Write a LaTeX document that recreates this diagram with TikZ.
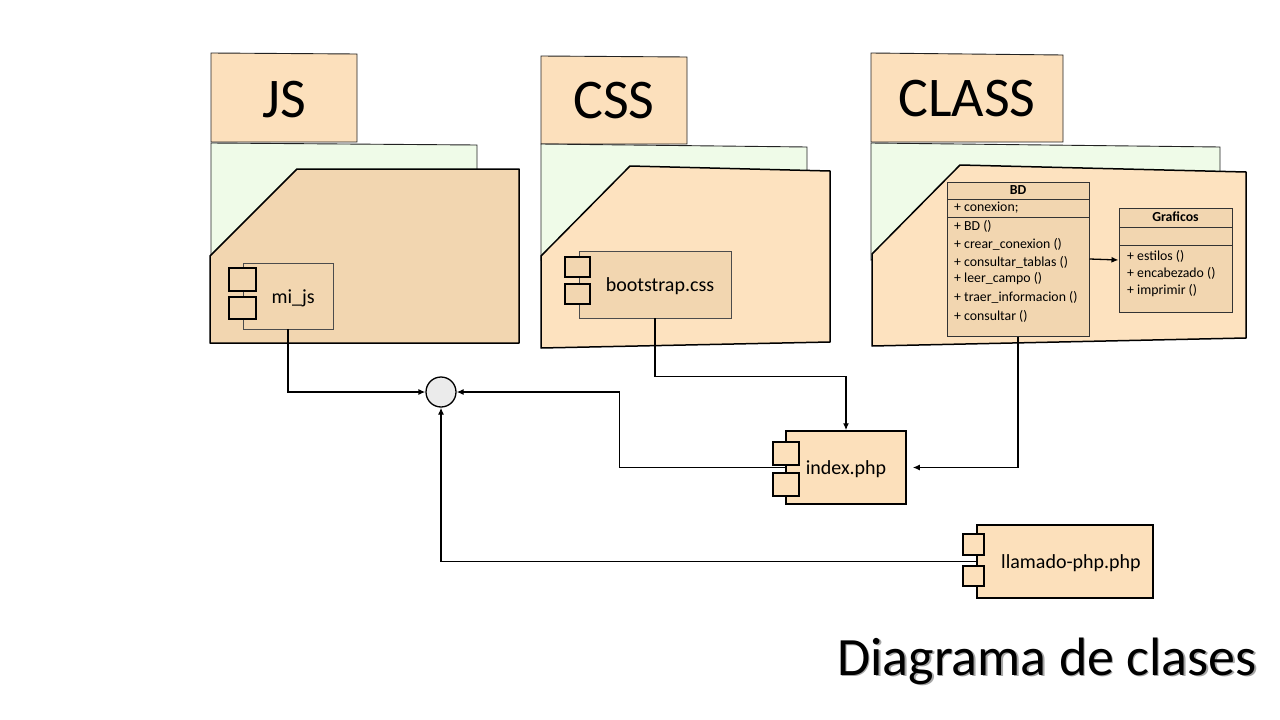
\documentclass[tikz,border=0pt]{standalone}
\usepackage{fontspec}
\setmainfont{Carlito}
\usetikzlibrary{arrows.meta}
\definecolor{tabc}{HTML}{FCE0BC}
\definecolor{greenc}{HTML}{EFFBE8}
\definecolor{frontd}{HTML}{F2D6B0}
\definecolor{frontl}{HTML}{FDE2BF}
\definecolor{compc}{HTML}{FCE0BB}
\definecolor{edge}{HTML}{222222}
\tikzset{
  tabbox/.style={fill=tabc, draw=edge, line width=0.9pt},
  greenbox/.style={fill=greenc, draw=edge, line width=0.9pt},
  frontbox/.style={draw=black, line width=1.5pt, line join=round},
  inbox/.style={draw=black!70, line width=0.8pt, fill=frontd, inner sep=0pt},
  port/.style={draw=black, line width=1.4pt, fill=frontd},
  extbox/.style={draw=black, line width=1.5pt, fill=compc, inner sep=0pt},
  extport/.style={draw=black, line width=1.3pt, fill=compc},
  classbox/.style={draw=black!80, line width=1pt, fill=frontd, inner sep=0pt},
  conn/.style={draw=black, line width=1.3pt},
  arr/.style={conn, -{Latex[length=7pt,width=6pt]}},
  big/.style={font=\fontsize{56}{60}\selectfont},
  mid/.style={font=\fontsize{20}{24}\selectfont},
  small/.style={font=\fontsize{13.8}{15}\selectfont, anchor=west, inner sep=0pt},
  smallb/.style={font=\bfseries\fontsize{13.8}{15}\selectfont, inner sep=0pt},
}
\begin{document}
\begin{tikzpicture}[x=1pt,y=-1pt]
\useasboundingbox (0,0) rectangle (1280,720);
\fill[white] (0,0) rectangle (1280,720);

% ---------- JS package ----------
\draw[tabbox] (211,53) -- (357,54) -- (357,142) -- (211,142) -- cycle;
\draw[greenbox] (211,143) -- (477,145) -- (477,200) -- (211,260) -- cycle;
\draw[frontbox, fill=frontd] (210,256) -- (297,169) -- (519,169) -- (519,343) -- (210,343) -- cycle;
\node[big] (jst) at (284,100) {JS};
\node[inbox, minimum width=90pt, minimum height=66pt] (mijs) at (288,296) {};
\node[mid, anchor=west] at (268,298) {mi\_js};
\draw[port] (229,268) rectangle (256,291);
\draw[port] (229,297) rectangle (256,319);

% ---------- CSS package ----------
\draw[tabbox] (541,56) -- (687,57) -- (687,144) -- (541,144) -- cycle;
\draw[greenbox] (541,144) -- (807,147) -- (807,200) -- (541,260) -- cycle;
\draw[frontbox, fill=frontl] (541,256) -- (630,166) -- (830,171) -- (830,342) -- (541,348) -- cycle;
\node[big] (csst) at (614,101) {CSS};
\node[inbox, minimum width=152pt, minimum height=67pt] (boot) at (655,284.5) {};
\node[mid] at (660,286) {bootstrap.css};
\draw[port] (565,257) rectangle (590,277);
\draw[port] (565,284) rectangle (590,304);

% ---------- CLASS package ----------
\draw[tabbox] (871,53) -- (1063,55) -- (1063,142) -- (871,142) -- cycle;
\draw[greenbox] (871,143) -- (1220,147) -- (1220,200) -- (871,260) -- cycle;
\draw[frontbox, fill=frontl] (872,254) -- (960,165) -- (1246,172) -- (1246,338) -- (872,346) -- cycle;
\node[big] (classt) at (967,99) {CLASS};

% BD class
\node[classbox, minimum width=142pt, minimum height=154pt] (bd) at (1018,259) {};
\draw[black!80, line width=1pt] (947,199) -- (1089,199);
\draw[black!80, line width=1pt] (947,217) -- (1089,217);
\node[smallb] at (1018,190) {BD};
\node[small] at (954,208) {+ conexion;};
\node[small] at (954,226) {+ BD ()};
\node[small] at (954,244) {+ crear\_conexion ()};
\node[small] at (954,262) {+ consultar\_tablas ()};
\node[small] at (954,279) {+ leer\_campo ()};
\node[small] at (954,297) {+ traer\_informacion ()};
\node[small] at (954,316) {+ consultar ()};

% Graficos class
\node[classbox, minimum width=113pt, minimum height=104pt] (graf) at (1175.5,260) {};
\draw[black!80, line width=1pt] (1119,227) -- (1232,227);
\draw[black!80, line width=1pt] (1119,245) -- (1232,245);
\node[smallb] at (1175.5,217) {Graficos};
\node[small] at (1127,256) {+ estilos ()};
\node[small] at (1127,273) {+ encabezado ()};
\node[small] at (1127,291) {+ imprimir ()};

\draw[arr] (bd.east) -- (graf.west);

% ---------- interface circle ----------
\node[circle, draw=black, line width=1.3pt, fill=black!8, minimum size=30pt, inner sep=0pt] (circ) at (441,392) {};

% ---------- index.php ----------
\node[extbox, minimum width=120pt, minimum height=73pt] (index) at (846,467.5) {};
\node[mid] at (846,469) {index.php};

% ---------- llamado-php.php ----------
\node[extbox, minimum width=176pt, minimum height=73pt] (llam) at (1065,561.5) {};
\node[mid] at (1071,563) {llamado-php.php};

% ---------- connectors ----------
\draw[arr] (mijs.south) |- (circ.west);
\draw[arr] (boot.south) -- ++(0,58) -| (index.north);
\draw[arr] (bd.south) |- ([xshift=6pt]index.east);
\draw[arr] (index.west) -- ++(-166,0) |- (circ.east);
\draw[arr] (llam.west) -| (circ.south);

% ports on external components
\draw[extport] (773,442) rectangle (799,465);
\draw[extport] (773,473) rectangle (799,496);
\draw[extport] (963,534) rectangle (984,555);
\draw[extport] (963,566) rectangle (984,586);

% ---------- title ----------
\node[font=\fontsize{54}{60}\selectfont, text=black!35] at (1048.5,662.5) {Diagrama de clases};
\node[font=\fontsize{54}{60}\selectfont] (title) at (1047,661) {Diagrama de clases};
\end{tikzpicture}
\end{document}
